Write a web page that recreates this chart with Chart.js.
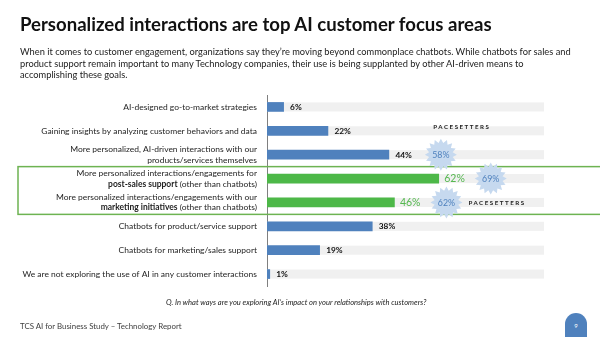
<!DOCTYPE html>
<html>
<head>
<meta charset="utf-8">
<script src="https://cdn.jsdelivr.net/npm/chart.js@4.4.1/dist/chart.umd.min.js"></script>
<style>
  html, body { margin:0; padding:0; background:#fff; }
  body { width:600px; height:337px; overflow:hidden; position:relative; font-family: Lato, "Open Sans", sans-serif; }
  #c { position:absolute; left:0; top:0; }
  .t { position:absolute; white-space:nowrap; line-height:1; }
  #badge { position:absolute; left:565px; top:313px; width:22px; height:24px; background:#4f81bd;
           border-radius:11px 11px 0 0; color:#fff; font-size:6px; text-align:center; line-height:26px; }
</style>
</head>
<body>
<canvas id="c" width="600" height="337"></canvas>
<div id="title" class="t" style="font-weight:700;color:#111;">Personalized interactions are top AI customer focus areas</div>
<div id="sub1" class="t" style="color:#222;">When it comes to customer engagement, organizations say they’re moving beyond commonplace chatbots. While chatbots for sales and</div>
<div id="sub2" class="t" style="color:#222;">product support remain important to many Technology companies, their use is being supplanted by other AI-driven means to</div>
<div id="sub3" class="t" style="color:#222;">accomplishing these goals.</div>
<div id="question" class="t" style="font-style:italic;color:#222;">Q. In what ways are you exploring AI’s impact on your relationships with customers?</div>
<div id="footer" class="t" style="color:#404040;">TCS AI for Business Study – Technology Report</div>
<div id="badge">9</div>
<script>
// ---------------- DATA ----------------
const categories = [
  "AI-designed go-to-market strategies",
  "Gaining insights by analyzing customer behaviors and data",
  "More personalized, AI-driven interactions with our\nproducts/services themselves",
  "More personalized interactions/engagements for\n**post-sales support** (other than chatbots)",
  "More personalized interactions/engagements with our\n**marketing initiatives** (other than chatbots)",
  "Chatbots for product/service support",
  "Chatbots for marketing/sales support",
  "We are not exploring the use of AI in any customer interactions"
];
const allRespondents = [6, 22, 44, 62, 46, 38, 19, 1];
const pacesetters = [null, null, 58, 69, 62, null, null, null];
const highlighted = [false, false, false, true, true, false, false, false];
const axisMin = 0;
const axisMax = 100;
const pacesetterLabel = "PACESETTERS";

// ---------------- STYLE ----------------
const FONT = 'Lato, "Open Sans", sans-serif';
const BLUE = '#4f81bd';
const GREEN = '#4db848';
const GREEN_TEXT = '#55b84f';
const BOX_GREEN = '#6db352';
const TRACK = '#f0f0f0';
const STAR = '#c6d9ef';

const mctx = document.createElement('canvas').getContext('2d');
function fitSize(text, weight, style, target) {
  mctx.font = `${style} ${weight} 100px ${FONT}`;
  return 100 * target / mctx.measureText(text).width;
}
function place(id, x, baseline, target, weight, style) {
  const el = document.getElementById(id);
  const s = fitSize(el.textContent, weight, style, target);
  el.style.fontSize = s + 'px';
  el.style.left = x + 'px';
  el.style.top = (baseline - 0.887 * s) + 'px';
  return s;
}
place('title', 20, 31.5, 473, 700, 'normal');
const subSize = place('sub1', 20, 55.5, 552, 400, 'normal');
['sub2', 'sub3'].forEach((id, i) => {
  const el = document.getElementById(id);
  el.style.fontSize = subSize + 'px';
  el.style.left = '20px';
  el.style.top = (55.5 + 11.5 * (i + 1) - 0.887 * subSize) + 'px';
});
(function () {
  const el = document.getElementById('question');
  const s = fitSize(el.textContent, 400, 'italic', 262);
  el.style.fontSize = s + 'px';
  el.style.left = (297 - 131) + 'px';
  el.style.top = (305.5 - 0.887 * s) + 'px';
})();
place('footer', 20, 330, 163, 400, 'normal');

// label font size fitted to longest single-line label
const labelSize = fitSize(categories[7], 400, 'normal', 235);

function parseLine(line) {
  const parts = line.split('**');
  return parts.map((t, i) => ({ text: t, bold: i % 2 === 1 })).filter(p => p.text.length);
}

const decor = {
  id: 'decor',
  beforeDatasetsDraw(chart) {
    const { ctx } = chart;
    const x = chart.scales.x, y = chart.scales.y;
    ctx.save();
    ctx.fillStyle = TRACK;
    const x0 = x.getPixelForValue(axisMin), x1 = x.getPixelForValue(axisMax);
    categories.forEach((c, i) => {
      const cy = y.getPixelForValue(i);
      ctx.fillRect(x0, cy - 4.5, x1 - x0, 9);
    });
    ctx.restore();
  },
  afterDatasetsDraw(chart) {
    const { ctx } = chart;
    const x = chart.scales.x, y = chart.scales.y;
    const band = y.getPixelForValue(1) - y.getPixelForValue(0);
    ctx.save();
    // category labels
    const right = chart.chartArea.left - 10;
    ctx.textBaseline = 'middle';
    ctx.fillStyle = '#1e1e1e';
    categories.forEach((c, i) => {
      const lines = c.split('\n');
      const cy = y.getPixelForValue(i);
      const lh = 10.5;
      lines.forEach((line, li) => {
        const ly = cy + (li - (lines.length - 1) / 2) * lh;
        const segs = parseLine(line);
        let total = 0;
        segs.forEach(s => { ctx.font = `${s.bold ? 700 : 400} ${labelSize}px ${FONT}`; s.w = ctx.measureText(s.text).width; total += s.w; });
        let sx = right - total;
        ctx.textAlign = 'left';
        segs.forEach(s => { ctx.font = `${s.bold ? 700 : 400} ${labelSize}px ${FONT}`; ctx.fillText(s.text, sx, ly); sx += s.w; });
      });
    });
    // highlight box
    const hi = highlighted.map((h, i) => h ? i : -1).filter(i => i >= 0);
    const top = y.getPixelForValue(hi[0]) - band / 2;
    const bot = y.getPixelForValue(hi[hi.length - 1]) + band / 2;
    ctx.strokeStyle = BOX_GREEN;
    ctx.lineWidth = 1.5;
    ctx.strokeRect(18, top, 600, bot - top);
    // value labels
    allRespondents.forEach((v, i) => {
      const ex = x.getPixelForValue(v);
      const cy = y.getPixelForValue(i);
      ctx.textAlign = 'left';
      if (highlighted[i]) {
        ctx.font = `400 10.5px ${FONT}`;
        ctx.fillStyle = GREEN_TEXT;
        ctx.fillText(v + '%', ex + 5.5, cy + 0.5);
      } else {
        ctx.font = `700 8.3px ${FONT}`;
        ctx.fillStyle = '#111';
        ctx.fillText(v + '%', ex + 6.5, cy + 0.5);
      }
    });
    // pacesetter stars
    const pIdx = pacesetters.map((p, i) => p == null ? -1 : i).filter(i => i >= 0);
    pIdx.forEach((i, k) => {
      const cx = x.getPixelForValue(allRespondents[i]) + 52;
      const cy = y.getPixelForValue(i);
      const n = 16, ro = 16, ri = 12;
      ctx.beginPath();
      for (let j = 0; j < 2 * n; j++) {
        const r = j % 2 ? ri : ro;
        const a = -Math.PI / 2 + j * Math.PI / n;
        const px = cx + r * Math.cos(a), py = cy + r * Math.sin(a);
        j ? ctx.lineTo(px, py) : ctx.moveTo(px, py);
      }
      ctx.closePath();
      ctx.fillStyle = STAR;
      ctx.fill();
      ctx.font = `400 8.8px ${FONT}`;
      ctx.fillStyle = BLUE;
      ctx.textAlign = 'center';
      ctx.fillText(pacesetters[i] + '%', cx, cy + 0.5);
      ctx.font = `700 6.2px ${FONT}`;
      ctx.fillStyle = '#222';
      if ('letterSpacing' in ctx) ctx.letterSpacing = '1.5px';
      if (k === 0) {
        ctx.textAlign = 'center';
        ctx.fillText(pacesetterLabel, cx + 21, cy - 28);
      } else if (k === pIdx.length - 1) {
        ctx.textAlign = 'left';
        ctx.fillText(pacesetterLabel, cx + 22, cy + 0.5);
      }
      if ('letterSpacing' in ctx) ctx.letterSpacing = '0px';
    });
    ctx.restore();
  }
};

new Chart(document.getElementById('c'), {
  type: 'bar',
  data: {
    labels: categories,
    datasets: [{
      label: 'All respondents',
      data: allRespondents,
      backgroundColor: allRespondents.map((v, i) => highlighted[i] ? GREEN : BLUE),
      barThickness: 9,
      borderWidth: 0
    }]
  },
  options: {
    indexAxis: 'y',
    responsive: false,
    animation: false,
    devicePixelRatio: 1,
    layout: { padding: { left: 267, right: 56, top: 95, bottom: 51 } },
    plugins: { legend: { display: false }, tooltip: { enabled: false } },
    scales: {
      x: { display: false, min: axisMin, max: axisMax },
      y: {
        ticks: { display: false },
        grid: { display: false, drawTicks: false },
        border: { display: true, color: '#7f7f7f', width: 1 },
        afterFit(s) { s.width = 0; }
      }
    }
  },
  plugins: [decor]
});
</script>
</body>
</html>
